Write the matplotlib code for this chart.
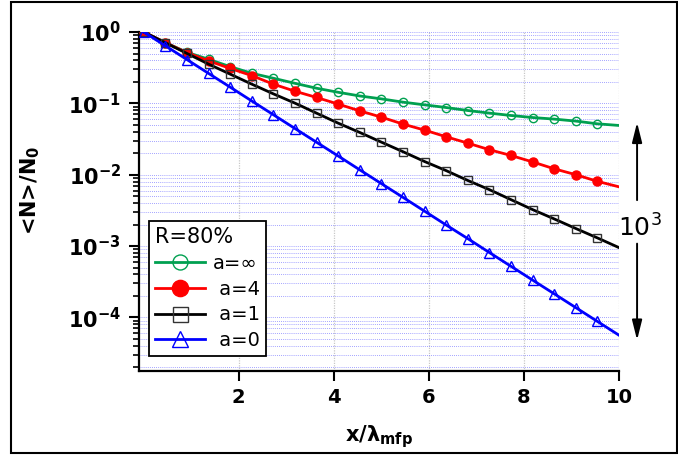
import matplotlib
matplotlib.use("Agg")
import matplotlib.pyplot as plt
from matplotlib.patches import Rectangle
from matplotlib.ticker import LogLocator, NullFormatter, FixedLocator

# distance in mean free paths (last point = curve end, no marker)
x_vals = [0.0, 0.455, 0.909, 1.364, 1.818, 2.273, 2.727, 3.182, 3.636, 4.091, 4.545, 5.0,
          5.455, 5.909, 6.364, 6.818, 7.273, 7.727, 8.182, 8.636, 9.091, 9.545, 10.0]

# <N>/N0
a_inf = [1.0, 0.71, 0.52, 0.415, 0.327, 0.264, 0.225, 0.191, 0.163, 0.143, 0.127, 0.1156,
         0.104, 0.0953, 0.0874, 0.0794, 0.073, 0.0676, 0.0633, 0.0602, 0.0564, 0.0517, 0.049]
a_4 = [1.0, 0.71, 0.513, 0.394, 0.309, 0.245, 0.186, 0.148, 0.121, 0.0977, 0.0785, 0.0641,
       0.0512, 0.0422, 0.034, 0.0277, 0.0224, 0.0186, 0.0151, 0.0121, 0.01, 0.00807, 0.00676]
a_1 = [1.0, 0.708, 0.501, 0.355, 0.257, 0.186, 0.136, 0.1007, 0.0729, 0.0528, 0.0391, 0.0286,
       0.021, 0.0153, 0.0114, 0.0083, 0.00617, 0.00447, 0.00324, 0.0024, 0.00176, 0.0013, 0.00095]
a_0 = [1.0, 0.641, 0.411, 0.263, 0.169, 0.108, 0.0693, 0.0444, 0.0285, 0.0183, 0.0117, 0.0075,
       0.00481, 0.00308, 0.00197, 0.00127, 0.00081, 0.00052, 0.000333, 0.000214, 0.000137,
       0.0000877, 0.0000562]

labels = ["a=\u221e", " a=4", " a=1", " a=0"]
x_ticks = [2, 4, 6, 8, 10]
y_ticks = [1e0, 1e-1, 1e-2, 1e-3, 1e-4]
y_ticklabels = [r"$\mathbf{10^{0}}$", r"$\mathbf{10^{-1}}$", r"$\mathbf{10^{-2}}$",
                r"$\mathbf{10^{-3}}$", r"$\mathbf{10^{-4}}$"]

plt.rcParams["font.family"] = ["DejaVu Sans"]
plt.rcParams["mathtext.fontset"] = "dejavusans"

fig = plt.figure(figsize=(6.78, 4.55), dpi=100)
ax = fig.add_axes([0.205, 0.1846, 0.708, 0.745])

green = "#00a050"
mk = slice(0, -1)
ax.plot(x_vals, a_inf, color=green, lw=2, marker="o", ms=6, mfc="none", mec=green, mew=1,
        markevery=mk, label=labels[0], zorder=3)
ax.plot(x_vals, a_4, color="#ff0000", lw=2, marker="o", ms=6.5, mfc="#ff0000", mec="#ff0000",
        markevery=mk, label=labels[1], zorder=3)
ax.plot(x_vals, a_1, color="black", lw=2, marker="s", ms=6, mfc="none", mec="#333333", mew=1,
        markevery=mk, label=labels[2], zorder=3)
ax.plot(x_vals, a_0, color="#0000ff", lw=2, marker="^", ms=6.5, mfc="none", mec="#0000ff", mew=1,
        markevery=mk, label=labels[3], zorder=3)

ax.set_yscale("log")
ax.set_xlim(-0.1, 10)
ax.set_ylim(1.77e-5, 1)

ax.xaxis.set_major_locator(FixedLocator(x_ticks))
ax.set_xticklabels([str(t) for t in x_ticks], fontsize=14, fontweight="bold")
ax.yaxis.set_major_locator(FixedLocator(y_ticks))
ax.set_yticklabels(y_ticklabels, fontsize=15)
ax.yaxis.set_minor_locator(LogLocator(base=10, subs=range(2, 10)))
ax.yaxis.set_minor_formatter(NullFormatter())

ax.tick_params(axis="both", which="major", direction="out", length=7, width=1.5, pad=5)
ax.tick_params(axis="y", which="minor", direction="out", length=4, width=1.2)
ax.tick_params(axis="y", which="major", pad=6)

for s in ["top", "right"]:
    ax.spines[s].set_visible(False)
for s in ["left", "bottom"]:
    ax.spines[s].set_linewidth(1.6)

ax.set_axisbelow(True)
ax.grid(axis="y", which="both", color="#8585ff", linestyle=(0, (1, 1.5)), lw=0.6)
ax.grid(axis="x", which="major", color="#c8c8c8", linestyle=(0, (1, 1)), lw=0.9)

ax.set_ylabel(r"<N>/N$_\mathbf{0}$", fontsize=15, fontweight="bold")
ax.yaxis.set_label_coords(-0.202, 0.534)
ax.set_xlabel(r"$\mathbf{x/\lambda_{mfp}}$", fontsize=15)
ax.xaxis.set_label_coords(0.5, -0.155)

leg = ax.legend(title="R=80%", loc="lower left", bbox_to_anchor=(0.021, 0.044), borderaxespad=0,
                fontsize=14, title_fontsize=15, markerscale=1.8, handlelength=2.6,
                labelspacing=0.35, handletextpad=0.4, borderpad=0.3, fancybox=False,
                framealpha=1, edgecolor="black")
leg._legend_box.align = "left"
leg.get_frame().set_linewidth(1.3)

# 10^3 span between a=inf and a=0 at x=10
ax.annotate("", xy=(10.38, 0.054), xytext=(10.38, 0.0044), annotation_clip=False,
            arrowprops=dict(arrowstyle="-|>,head_length=0.6,head_width=0.15", lw=1.4,
                            color="black", mutation_scale=20, shrinkA=0, shrinkB=0))
ax.annotate("", xy=(10.38, 4.8e-5), xytext=(10.38, 0.00108), annotation_clip=False,
            arrowprops=dict(arrowstyle="-|>,head_length=0.6,head_width=0.15", lw=1.4,
                            color="black", mutation_scale=20, shrinkA=0, shrinkB=0))
ax.text(10.44, 0.00177, r"$\mathregular{10^3}$", fontsize=18, ha="center", va="center",
        clip_on=False)

fig.patches.append(Rectangle((11 / 678, 0.005), 0.982, 0.9916, transform=fig.transFigure,
                             fill=False, edgecolor="black", lw=1.5))

fig.savefig("out.png", dpi=100)
